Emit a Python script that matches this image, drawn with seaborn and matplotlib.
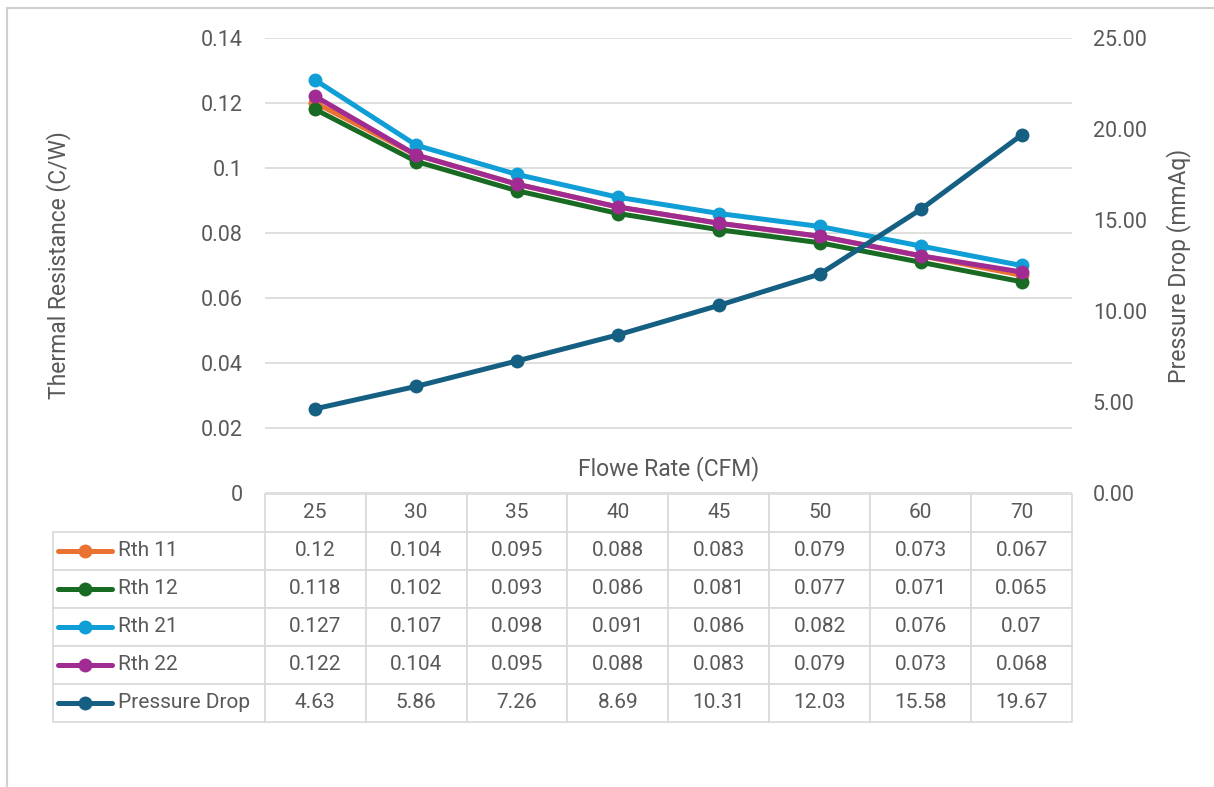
import numpy as np
import pandas as pd
import matplotlib
matplotlib.use("Agg")
import matplotlib.pyplot as plt
from matplotlib.lines import Line2D
import seaborn as sns

flow = ["25", "30", "35", "40", "45", "50", "60", "70"]
rth_11 = [0.12, 0.104, 0.095, 0.088, 0.083, 0.079, 0.073, 0.067]
rth_12 = [0.118, 0.102, 0.093, 0.086, 0.081, 0.077, 0.071, 0.065]
rth_21 = [0.127, 0.107, 0.098, 0.091, 0.086, 0.082, 0.076, 0.07]
rth_22 = [0.122, 0.104, 0.095, 0.088, 0.083, 0.079, 0.073, 0.068]
pressure_drop = [4.63, 5.86, 7.26, 8.69, 10.31, 12.03, 15.58, 19.67]

series_names = ["Rth 11", "Rth 12", "Rth 21", "Rth 22", "Pressure Drop"]
colors = ["#E97132", "#196B24", "#0F9ED5", "#A02B93", "#156082"]
left_ticks = [0, 0.02, 0.04, 0.06, 0.08, 0.1, 0.12, 0.14]
left_labels = ["0", "0.02", "0.04", "0.06", "0.08", "0.1", "0.12", "0.14"]
right_ticks = [0, 5, 10, 15, 20, 25]
right_labels = ["0.00", "5.00", "10.00", "15.00", "20.00", "25.00"]

sns.set_theme(style="white")
plt.rcParams["font.family"] = ["Roboto", "DejaVu Sans"]
txt = "#595959"
grid_c = "#D9D9D9"
fs_tick = 15.5
fs_title = 16.5
fs_tbl = 15

pos = np.arange(len(flow))
rth = pd.DataFrame({
    "pos": np.tile(pos, 4),
    "value": rth_11 + rth_12 + rth_21 + rth_22,
    "series": np.repeat(series_names[:4], len(flow)),
})

fig = plt.figure(figsize=(12.14, 7.87), dpi=100)
ax = fig.add_axes([265 / 1214, 294 / 787, 807 / 1214, 455 / 787])

sns.lineplot(data=rth, x="pos", y="value", hue="series", hue_order=series_names[:4],
             palette=colors[:4], marker="o", markersize=10, markeredgewidth=0,
             linewidth=3.6, legend=False, ax=ax)
ax.set_xlim(-0.5, len(flow) - 0.5)
ax.set_ylim(0, 0.14)
ax.set_yticks(left_ticks)
ax.set_yticklabels(left_labels)
ax.set_xticks([])
ax.grid(axis="y", color=grid_c, lw=1.2)
ax.tick_params(axis="y", length=0, pad=16, labelsize=fs_tick, labelcolor=txt)
for s in ax.spines.values():
    s.set_visible(False)
ax.set_ylabel("Thermal Resistance (C/W)", fontsize=fs_title, color=txt)
ax.yaxis.set_label_coords(-0.240, 0.5)
ax.set_xlabel("Flowe Rate (CFM)", fontsize=fs_title, color=txt)
ax.xaxis.set_label_coords(0.5, 0.082)

ax2 = ax.twinx()
sns.lineplot(x=pos, y=pressure_drop, color=colors[4], marker="o", markersize=10,
             markeredgewidth=0, linewidth=3.6, ax=ax2)
ax2.set_ylim(0, 25)
ax2.set_yticks(right_ticks)
ax2.set_yticklabels(right_labels)
ax2.tick_params(axis="y", length=0, pad=15, labelsize=fs_tick, labelcolor=txt)
for s in ax2.spines.values():
    s.set_visible(False)
ax2.set_ylabel("Pressure Drop (mmAq)", fontsize=fs_title, color=txt)
ax2.yaxis.set_label_coords(1.117, 0.5)

# data table under the plot; first column holds the series names
rows = [[f"{v:g}" for v in r] for r in (rth_11, rth_12, rth_21, rth_22)]
rows.append([f"{v:.2f}" for v in pressure_drop])
cell_text = [[name] + r for name, r in zip(series_names, rows)]
col_w = 101
lab_w = 212
tbl_left = -lab_w / 807
tbl_top = -0.002
row_h = 38 / 455
n_rows = len(series_names) + 1
tbl = ax.table(cellText=cell_text, colLabels=[""] + flow,
               colWidths=[lab_w] + [col_w] * len(flow), cellLoc="center",
               bbox=[tbl_left, tbl_top - n_rows * row_h, 1 - tbl_left, n_rows * row_h])
tbl.auto_set_font_size(False)
tbl.set_fontsize(fs_tbl)
for (r, c), cell in tbl.get_celld().items():
    cell.set_edgecolor(grid_c)
    cell.set_linewidth(1.2)
    cell.get_text().set_color(txt)
    if c == 0:
        cell.get_text().set_horizontalalignment("left")
        cell.PAD = 65 / lab_w
        if r == 0:
            cell.set_visible(False)

# legend keys inside the name cells
for i, col in enumerate(colors):
    yc = tbl_top - (i + 1.5) * row_h
    x0 = tbl_left + 5 / 807
    x1 = tbl_left + 59 / 807
    ax.add_line(Line2D([x0, x1], [yc, yc], transform=ax.transAxes, color=col,
                       lw=3.6, clip_on=False, solid_capstyle="round"))
    ax.add_line(Line2D([(x0 + x1) / 2], [yc], transform=ax.transAxes, color=col,
                       marker="o", markersize=10, markeredgewidth=0, clip_on=False))

# chart frame (only top and left edges show)
fig.add_artist(Line2D([7 / 1214, 1], [1 - 8 / 787, 1 - 8 / 787], color="#D0D0D0", lw=1.5))
fig.add_artist(Line2D([7 / 1214, 7 / 1214], [0, 1 - 8 / 787], color="#D0D0D0", lw=1.5))

fig.savefig("out.png", dpi=100, facecolor="white")
